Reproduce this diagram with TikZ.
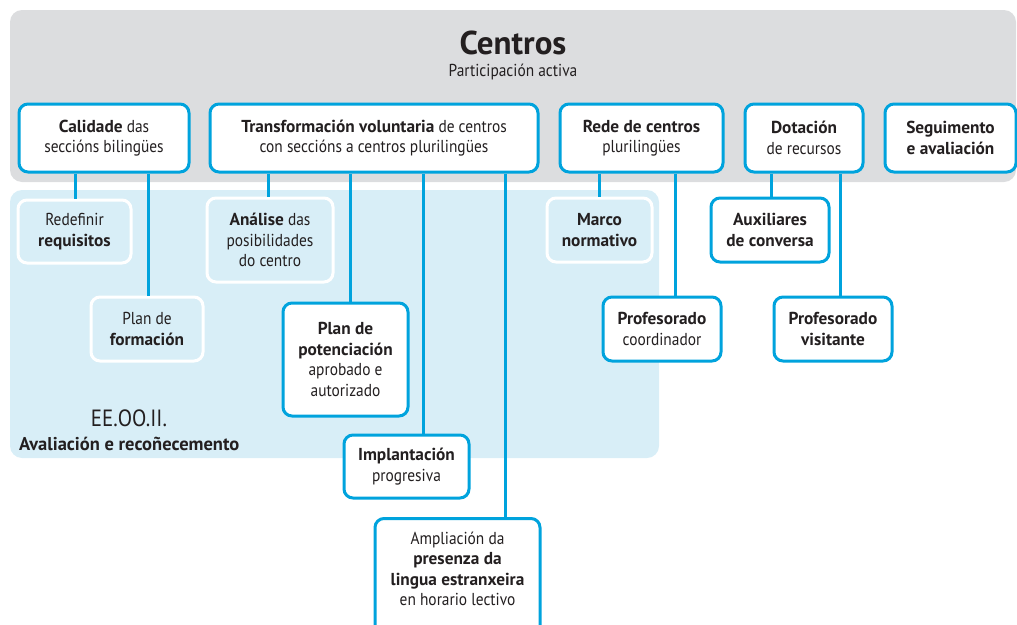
\documentclass[tikz,border=0pt]{standalone}
\usepackage{fontspec}
\setmainfont{PT Sans}[FakeStretch=0.89, BoldFeatures={FakeStretch=1.0}]
\definecolor{cblue}{HTML}{00A3DD}
\definecolor{cgrey}{HTML}{DCDDDF}
\definecolor{clight}{HTML}{D8EEF7}
\definecolor{ctext}{HTML}{231F20}
\begin{document}
\begin{tikzpicture}[x=1pt,y=-1pt,
  txt/.style={font=\fontsize{17.3}{20.5}\selectfont, text=ctext, align=center, inner sep=0pt},
  bluebox/.style={txt, draw=cblue, fill=white, line width=3pt, rounded corners=9pt},
  lightbox/.style={txt, draw=white, fill=clight, line width=3pt, rounded corners=9pt},
  conn/.style={draw=cblue, line width=3pt}]
\useasboundingbox (0,0) rectangle (1017,624);
\clip (0,0) rectangle (1017,624);
% backgrounds
\fill[cgrey, rounded corners=12pt] (10,10) rectangle (1016,182);
\fill[clight, rounded corners=12pt] (10,190) rectangle (659,458);
\node[font=\fontsize{33}{38}\selectfont\bfseries, text=ctext, inner sep=0pt] (title) at (513,43) {Centros};
\node[txt] (sub) at (513,72) {Participación activa};
% top row
\node[bluebox, minimum width=170, minimum height=68] (cal) at (104,138) {\textbf{Calidade} das\\seccións bilingües};
\node[bluebox, minimum width=328, minimum height=68] (tra) at (374,138) {\textbf{Transformación voluntaria} de centros\\con seccións a centros plurilingües};
\node[bluebox, minimum width=163, minimum height=68] (red) at (641.5,138) {\textbf{Rede de centros}\\plurilingües};
\node[bluebox, minimum width=118, minimum height=68] (dot) at (804,138) {\textbf{Dotación}\\de recursos};
\node[bluebox, minimum width=131, minimum height=68] (seg) at (950.5,138) {\textbf{Seguimento}\\\textbf{e avaliación}};
% lower boxes
\node[lightbox, minimum width=113, minimum height=63] (rdf) at (74.5,231.5) {Redefinir\\\textbf{requisitos}};
\node[lightbox, minimum width=112, minimum height=64] (pfo) at (147,329) {Plan de\\\textbf{formación}};
\node[lightbox, minimum width=126, minimum height=84] (ana) at (270,240) {\textbf{Análise} das\\posibilidades\\do centro};
\node[lightbox, minimum width=105, minimum height=64] (mar) at (599.5,230) {\textbf{Marco}\\\textbf{normativo}};
\node[bluebox, minimum width=125, minimum height=113] (pot) at (345.5,359.5) {\textbf{Plan de}\\\textbf{potenciación}\\aprobado e\\autorizado};
\node[bluebox, minimum width=125, minimum height=63] (imp) at (406.5,466.5) {\textbf{Implantación}\\progresiva};
\node[bluebox, minimum width=165, minimum height=126, anchor=north] (amp) at (457.5,517) {};
\node[txt] (amptxt) at (457.5,569) {Ampliación da\\\textbf{presenza da}\\\textbf{lingua estranxeira}\\en horario lectivo};
\node[bluebox, minimum width=118, minimum height=64] (aux) at (770,230) {\textbf{Auxiliares}\\\textbf{de conversa}};
\node[bluebox, minimum width=118, minimum height=64] (pco) at (662,329) {\textbf{Profesorado}\\coordinador};
\node[bluebox, minimum width=118, minimum height=64] (pvi) at (833,329) {\textbf{Profesorado}\\\textbf{visitante}};
% label
\node[font=\fontsize{23.5}{26}\selectfont, text=ctext, inner sep=0pt] (ee) at (129,418) {EE.OO.II.};
\node[txt, anchor=west, font=\fontsize{18.5}{20}\selectfont\bfseries] (aval) at (19,444) {Avaliación e recoñecemento};
% connector x positions
\coordinate (x1) at (75,0);
\coordinate (x2) at (148,0);
\coordinate (x3) at (268,0);
\coordinate (x4) at (350,0);
\coordinate (x5) at (423,0);
\coordinate (x6) at (505,0);
\coordinate (x7) at (599,0);
\coordinate (x8) at (675,0);
\coordinate (x9) at (771,0);
\coordinate (x10) at (840,0);
\draw[conn] (x1 |- cal.south) -- (x1 |- rdf.north);
\draw[conn] (x2 |- cal.south) -- (x2 |- pfo.north);
\draw[conn] (x3 |- tra.south) -- (x3 |- ana.north);
\draw[conn] (x4 |- tra.south) -- (x4 |- pot.north);
\draw[conn] (x5 |- tra.south) -- (x5 |- imp.north);
\draw[conn] (x6 |- tra.south) -- (x6 |- amp.north);
\draw[conn] (x7 |- red.south) -- (x7 |- mar.north);
\draw[conn] (x8 |- red.south) -- (x8 |- pco.north);
\draw[conn] (x9 |- dot.south) -- (x9 |- aux.north);
\draw[conn] (x10 |- dot.south) -- (x10 |- pvi.north);
\end{tikzpicture}
\end{document}
